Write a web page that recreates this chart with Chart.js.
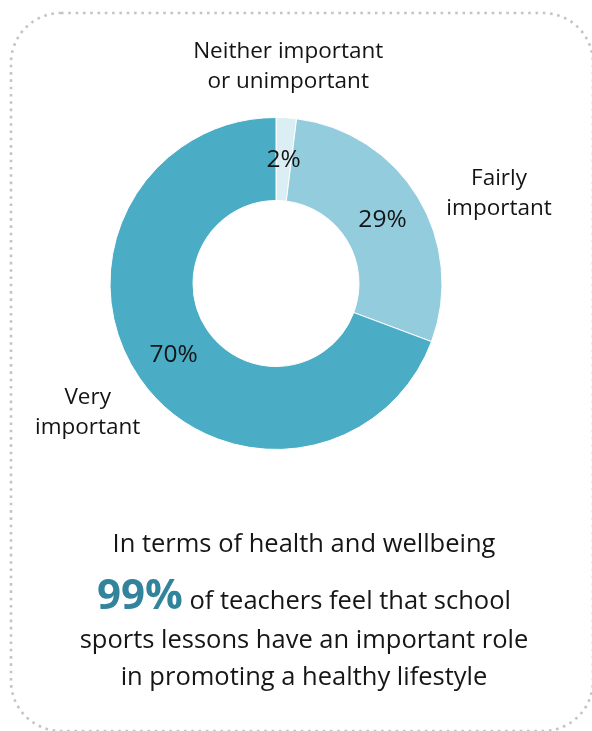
<!DOCTYPE html>
<html>
<head>
<meta charset="utf-8">
<script src="https://cdn.jsdelivr.net/npm/chart.js@4"></script>
<style>
  html, body { margin: 0; padding: 0; background: #fff; }
  body { width: 592px; height: 731px; position: relative; overflow: hidden; font-family: "Open Sans", sans-serif; color: #161616; }
  #frame { position: absolute; left: 0; top: 0; }
  #chartBox { position: absolute; left: 0; top: 0; width: 552px; height: 567px; }
  .line { position: absolute; left: 54px; width: 500px; text-align: center; white-space: nowrap; font-size: 25.5px; line-height: 30px; height: 30px; }
  .big { color: #31849b; font-weight: bold; font-size: 42px; }
</style>
</head>
<body>
<svg id="frame" width="592" height="731">
  <rect x="11" y="13" width="582" height="718" rx="50" ry="50" fill="none" stroke="#c4c4c4" stroke-width="2.6" stroke-dasharray="2.6 4.7"/>
</svg>
<div id="chartBox"><canvas id="donut"></canvas></div>

<div class="line" style="top:527px">In terms of health and wellbeing</div>
<div class="line" style="top:578px"><span class="big">99%</span> of teachers feel that school</div>
<div class="line" style="top:623px">sports lessons have an important role</div>
<div class="line" style="top:660px">in promoting a healthy lifestyle</div>

<script>
// survey answers, clockwise from the top
categories = [['Neither important', 'or unimportant'], ['Fairly', 'important'], ['Very', 'important']];
values = [2, 29, 70];
valueLabels = ['2%', '29%', '70%'];
colors = ['#daeef3', '#93cddd', '#4bacc6'];

// small nudges for the outside labels (px)
labelNudge = [[-2, 11], [28, 28], [-1, -1]];

var labelPlugin = {
  id: 'sliceLabels',
  afterDatasetsDraw: function (chart) {
    var ctx = chart.ctx;
    var meta = chart.getDatasetMeta(0);
    ctx.save();
    ctx.textAlign = 'center';
    ctx.textBaseline = 'middle';
    ctx.fillStyle = '#141414';
    meta.data.forEach(function (arc, i) {
      var p = arc.tooltipPosition();
      ctx.font = '24.5px "Open Sans"';
      ctx.fillText(valueLabels[i], p.x, p.y + 1);

      var mid = (arc.startAngle + arc.endAngle) / 2;
      var r = arc.outerRadius + 62;
      var x = arc.x + Math.cos(mid) * r + labelNudge[i][0];
      var y = arc.y + Math.sin(mid) * r + labelNudge[i][1];
      var lines = categories[i];
      ctx.font = '22.5px "Open Sans"';
      lines.forEach(function (t, k) {
        ctx.fillText(t, x, y + (k - (lines.length - 1) / 2) * 30);
      });
    });
    ctx.restore();
  }
};

new Chart(document.getElementById('donut'), {
  type: 'doughnut',
  data: {
    labels: categories.map(function (c) { return c.join(' '); }),
    datasets: [{
      data: values,
      backgroundColor: colors,
      borderColor: '#ffffff',
      borderWidth: 1
    }]
  },
  options: {
    responsive: true,
    maintainAspectRatio: false,
    animation: false,
    radius: 166,
    cutout: '50%',
    plugins: {
      legend: { display: false },
      tooltip: { enabled: false }
    }
  },
  plugins: [labelPlugin]
});
</script>
</body>
</html>
